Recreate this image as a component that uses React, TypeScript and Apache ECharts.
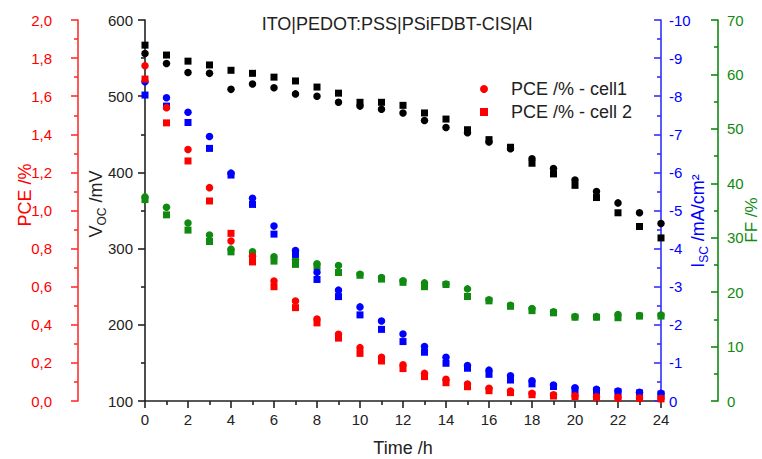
import React, { useEffect, useRef } from "react";
import * as echarts from "echarts";

const FONT = 'Arial, "Liberation Sans", sans-serif';

const timeH = [0, 1, 2, 3, 4, 5, 6, 7, 8, 9, 10, 11, 12, 13, 14, 15, 16, 17, 18, 19, 20, 21, 22, 23, 24];

const pceCell1 = [1.76, 1.54, 1.32, 1.12, 0.84, 0.76, 0.63, 0.525, 0.43, 0.35, 0.28, 0.23, 0.19, 0.145, 0.114, 0.089, 0.067, 0.052, 0.04, 0.033, 0.028, 0.022, 0.019, 0.016, 0.013];
const pceCell2 = [1.69, 1.46, 1.26, 1.05, 0.88, 0.73, 0.6, 0.49, 0.41, 0.33, 0.25, 0.21, 0.17, 0.128, 0.096, 0.075, 0.054, 0.044, 0.033, 0.026, 0.023, 0.019, 0.016, 0.014, 0.011];

const vocCell1 = [556, 543, 531, 530, 509, 516, 511, 503, 500, 492, 487, 483, 478, 468, 459, 452, 440, 431, 418, 405, 390, 375, 360, 347, 333];
const vocCell2 = [567, 554, 546, 541, 534, 530, 525, 520, 512, 504, 492, 492, 488, 478, 470, 456, 443, 433, 412, 398, 383, 367, 347, 329, 314];

const iscCell1 = [-8.38, -7.96, -7.58, -6.94, -5.98, -5.32, -4.59, -3.95, -3.38, -2.91, -2.47, -2.1, -1.76, -1.43, -1.15, -0.93, -0.81, -0.66, -0.53, -0.42, -0.35, -0.31, -0.26, -0.23, -0.2];
const iscCell2 = [-8.03, -7.74, -7.31, -6.63, -5.93, -5.16, -4.38, -3.85, -3.19, -2.74, -2.26, -1.88, -1.56, -1.28, -0.99, -0.86, -0.7, -0.55, -0.45, -0.38, -0.29, -0.27, -0.24, -0.21, -0.18];

const ffCell1 = [37.5, 35.6, 32.7, 30.5, 27.9, 27.4, 26.5, 26.0, 25.2, 24.9, 23.3, 22.7, 22.1, 21.7, 21.5, 20.6, 18.6, 17.6, 17.0, 16.4, 15.5, 15.5, 15.9, 15.7, 15.8];
const ffCell2 = [37.0, 34.2, 31.4, 29.3, 27.4, 26.6, 25.7, 25.1, 24.7, 23.6, 23.1, 22.4, 21.8, 21.0, 21.4, 19.2, 18.4, 17.4, 16.6, 16.2, 15.4, 15.4, 15.3, 15.6, 15.6];

const RED = "#ff0000";
const BLUE = "#0000ff";
const GREEN = "#118a11";
const BLACK = "#000000";

const pairs = (ys: number[]) => timeH.map((t, i) => [t, ys[i]]);

function makeYAxis(opts: any) {
  const { color, axisColor, position, offset, min, max, interval, inside, margin, inverse, formatter } = opts;
  return {
    type: "value",
    position,
    offset,
    min,
    max,
    interval,
    inverse: !!inverse,
    axisLine: { show: true, onZero: false, lineStyle: { color: axisColor, width: 1.6 } },
    axisTick: { show: true, inside, length: 7, lineStyle: { color: axisColor, width: 1.6 } },
    minorTick: { show: true, splitNumber: 2, length: 4, lineStyle: { color: axisColor, width: 1.6 } },
    axisLabel: { color, fontSize: 15, fontFamily: FONT, margin, formatter },
    splitLine: { show: false },
    minorSplitLine: { show: false },
  };
}

export default function App() {
  const ref = useRef<HTMLDivElement>(null);
  useEffect(() => {
    if (!ref.current) return;
    const chart = echarts.init(ref.current, undefined, { renderer: "svg" });
    const scatter = (name: string, data: number[], yAxisIndex: number, color: string, symbol: string) => ({
      name,
      type: "scatter",
      yAxisIndex,
      symbol,
      symbolSize: symbol === "circle" ? 7.5 : 7,
      itemStyle: { color, opacity: 1 },
      data: pairs(data),
      z: 2,
    });
    chart.setOption({
      animation: false,
      backgroundColor: "#ffffff",
      title: {
        text: "ITO|PEDOT:PSS|PSiFDBT-CIS|Al",
        left: 392,
        top: 10,
        textAlign: "center",
        textStyle: { fontFamily: FONT, fontSize: 18, fontWeight: "normal", color: "#222" },
      },
      legend: {
        orient: "vertical",
        left: 475,
        top: 74,
        itemWidth: 8,
        itemHeight: 8,
        itemGap: 3,
        data: ["PCE /% - cell1", "PCE /% - cell 2"],
        textStyle: { fontFamily: FONT, fontSize: 18, color: "#222", lineHeight: 20, padding: [0, 0, 0, 18] },
      },
      grid: { left: 145, right: 101, top: 20, bottom: 58 },
      xAxis: {
        type: "value",
        min: 0,
        max: 24,
        interval: 2,
        axisLine: { show: true, onZero: false, lineStyle: { color: "#222", width: 1.6 } },
        axisTick: { show: true, inside: false, length: 7, lineStyle: { color: "#222", width: 1.6 } },
        minorTick: { show: true, splitNumber: 2, length: 4, lineStyle: { color: "#222", width: 1.6 } },
        axisLabel: { color: "#222", fontSize: 15, fontFamily: FONT, margin: 11 },
        splitLine: { show: false },
      },
      yAxis: [
        makeYAxis({ color: RED, axisColor: "#ff3030", position: "left", offset: 67, min: 0, max: 2, interval: 0.2, inside: false, margin: 26, formatter: (v: number) => v.toFixed(1).replace(".", ",") }),
        makeYAxis({ color: "#222", axisColor: "#222", position: "left", offset: 0, min: 100, max: 600, interval: 100, inside: false, margin: 12 }),
        makeYAxis({ color: BLUE, axisColor: "#3030ff", position: "right", offset: 0, min: -10, max: 0, interval: 1, inside: true, margin: 8, inverse: true }),
        makeYAxis({ color: GREEN, axisColor: GREEN, position: "right", offset: 57, min: 0, max: 70, interval: 10, inside: true, margin: 9 }),
      ],
      series: [
        scatter("FF /% - cell1", ffCell1, 3, GREEN, "circle"),
        scatter("FF /% - cell 2", ffCell2, 3, GREEN, "rect"),
        scatter("Isc - cell1", iscCell1, 2, BLUE, "circle"),
        scatter("Isc - cell 2", iscCell2, 2, BLUE, "rect"),
        scatter("PCE /% - cell1", pceCell1, 0, RED, "circle"),
        scatter("PCE /% - cell 2", pceCell2, 0, RED, "rect"),
        scatter("Voc - cell1", vocCell1, 1, BLACK, "circle"),
        scatter("Voc - cell 2", vocCell2, 1, BLACK, "rect"),
      ],
      graphic: [
        {
          type: "text",
          x: 25,
          y: 195,
          rotation: Math.PI / 2,
          style: { text: "PCE /%", fill: RED, font: `18px ${FONT}`, align: "center", verticalAlign: "middle" },
        },
        {
          type: "text",
          x: 96,
          y: 204,
          rotation: Math.PI / 2,
          style: {
            text: "{a|V}{b|OC}{a| /mV}",
            align: "center",
            verticalAlign: "middle",
            rich: {
              a: { fill: "#222", fontSize: 18, fontFamily: FONT, lineHeight: 24 },
              b: { fill: "#222", fontSize: 12, fontFamily: FONT, lineHeight: 14, verticalAlign: "bottom" },
            },
          },
        },
        {
          type: "text",
          x: 698,
          y: 221,
          rotation: Math.PI / 2,
          style: {
            text: "{a|I}{b|SC}{a| /mA/cm²}",
            align: "center",
            verticalAlign: "middle",
            rich: {
              a: { fill: BLUE, fontSize: 18, fontFamily: FONT, lineHeight: 24 },
              b: { fill: BLUE, fontSize: 12, fontFamily: FONT, lineHeight: 14, verticalAlign: "bottom" },
            },
          },
        },
        {
          type: "text",
          x: 751,
          y: 220,
          rotation: Math.PI / 2,
          style: { text: "FF /%", fill: GREEN, font: `17px ${FONT}`, align: "center", verticalAlign: "middle" },
        },
        {
          type: "text",
          x: 403,
          y: 448,
          style: { text: "Time /h", fill: "#222", font: `18px ${FONT}`, align: "center", verticalAlign: "middle" },
        },
      ],
    });
    return () => chart.dispose();
  }, []);
  return <div ref={ref} style={{ position: "fixed", left: 0, top: 0, width: 762, height: 459, background: "#fff" }} />;
}
